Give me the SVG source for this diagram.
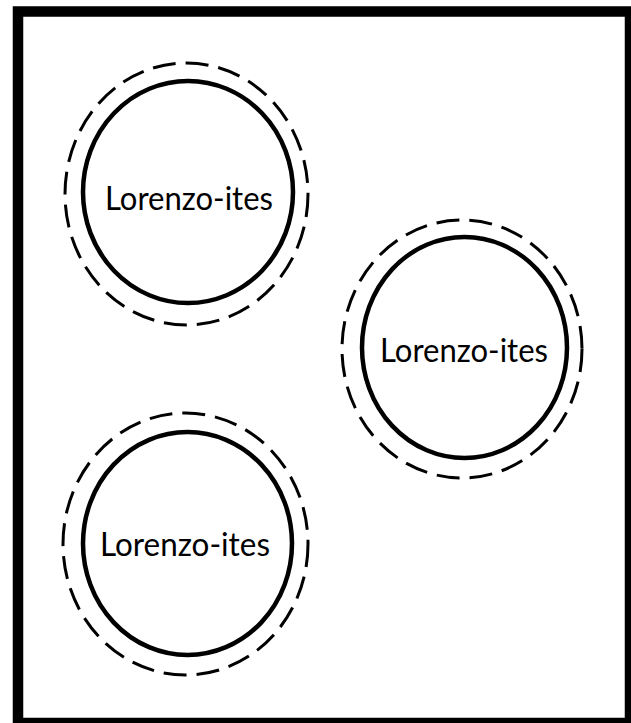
<svg xmlns="http://www.w3.org/2000/svg" width="631" height="723" viewBox="0 0 631 723">
<style>
.solid{fill:none;stroke:#000;stroke-width:4.5}
.dash{fill:none;stroke:#000;stroke-width:3;stroke-dasharray:23 10}
.lbl{font-family:Lato,"Open Sans","Liberation Sans",sans-serif;font-size:33px;fill:#000}
</style>
<rect x="18" y="11.5" width="612" height="711.5" fill="#fff" stroke="#000" stroke-width="10.5"/>
<g id="node1">
<ellipse class="dash" cx="186.5" cy="194" rx="121.5" ry="131"/>
<ellipse class="solid" cx="188" cy="192" rx="105" ry="111"/>
<text class="lbl" x="105" y="210" textLength="168" lengthAdjust="spacingAndGlyphs">Lorenzo-ites</text>
</g>
<g id="node2">
<ellipse class="dash" cx="462" cy="349" rx="120" ry="129"/>
<ellipse class="solid" cx="464.5" cy="347.5" rx="102.5" ry="110.5"/>
<text class="lbl" x="380" y="362" textLength="168" lengthAdjust="spacingAndGlyphs">Lorenzo-ites</text>
</g>
<g id="node3">
<ellipse class="dash" cx="185.5" cy="544" rx="122.5" ry="131"/>
<ellipse class="solid" cx="187.5" cy="543.5" rx="104.5" ry="111.5"/>
<text class="lbl" x="100" y="556" textLength="170" lengthAdjust="spacingAndGlyphs">Lorenzo-ites</text>
</g>
<g id="connectors"/>
</svg>
